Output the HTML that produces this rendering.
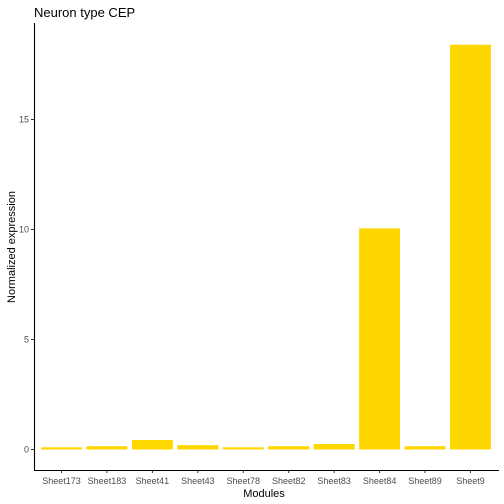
<!DOCTYPE html><html><head><meta charset="utf-8"><style>body{margin:0;background:#fff}svg{display:block;font-family:"Liberation Sans",sans-serif}</style></head><body>
<svg width="504" height="504" viewBox="0 0 504 504" id="c">
<rect width="504" height="504" fill="#fff"/>
<text x="34" y="17" font-size="13" fill="#000">Neuron type CEP</text>
<text x="264" y="497" font-size="11" text-anchor="middle">Modules</text>
<text transform="translate(15,247) rotate(-90)" font-size="11" text-anchor="middle">Normalized expression</text>
<g id="bars"></g><g id="axes"></g>
</svg>
<script>
const categories=["Sheet173","Sheet183","Sheet41","Sheet43","Sheet78","Sheet82","Sheet83","Sheet84","Sheet89","Sheet9"];
const values=[0.1,0.15,0.43,0.2,0.1,0.15,0.25,10.05,0.15,18.4];
const yTicks=[0,5,10,15];
const NS="http://www.w3.org/2000/svg";
const x0=38.8,x1=493.2,yBase=449.5,pxPer=22;
const step=(x1-x0)/categories.length;
const xs=i=>x0+step*(i+0.5);
const ys=v=>yBase-v*pxPer;
function mk(t,a,p){const e=document.createElementNS(NS,t);for(const k in a)e.setAttribute(k,a[k]);p.appendChild(e);return e;}
const bars=document.getElementById('bars'),axes=document.getElementById('axes');
values.forEach((v,i)=>{const w=step*0.9;
const r=mk('rect',{x:xs(i)-w/2,y:ys(v),width:w,height:yBase-ys(v),fill:'#FFD700'},bars);


const t=mk('line',{x1:xs(i),x2:xs(i),y1:470,y2:473,stroke:'#333'},axes);


const l=mk('text',{x:xs(i),y:484,'font-size':'9','text-anchor':'middle',fill:'#4d4d4d'},axes);l.textContent=categories[i];


});
yTicks.forEach(v=>{const t=mk('line',{x1:31,x2:34,y1:ys(v),y2:ys(v),stroke:'#333'},axes);


const l=mk('text',{x:29,y:ys(v)+3,'font-size':'9','text-anchor':'end',fill:'#4d4d4d'},axes);l.textContent=v;


});
const ya=mk('line',{x1:34.5,x2:34.5,y1:23,y2:470.5,stroke:'#000','stroke-width':1.1},axes);


const xa=mk('line',{x1:34,x2:499,y1:470.5,y2:470.5,stroke:'#000','stroke-width':1.1},axes);


</script></body></html>
